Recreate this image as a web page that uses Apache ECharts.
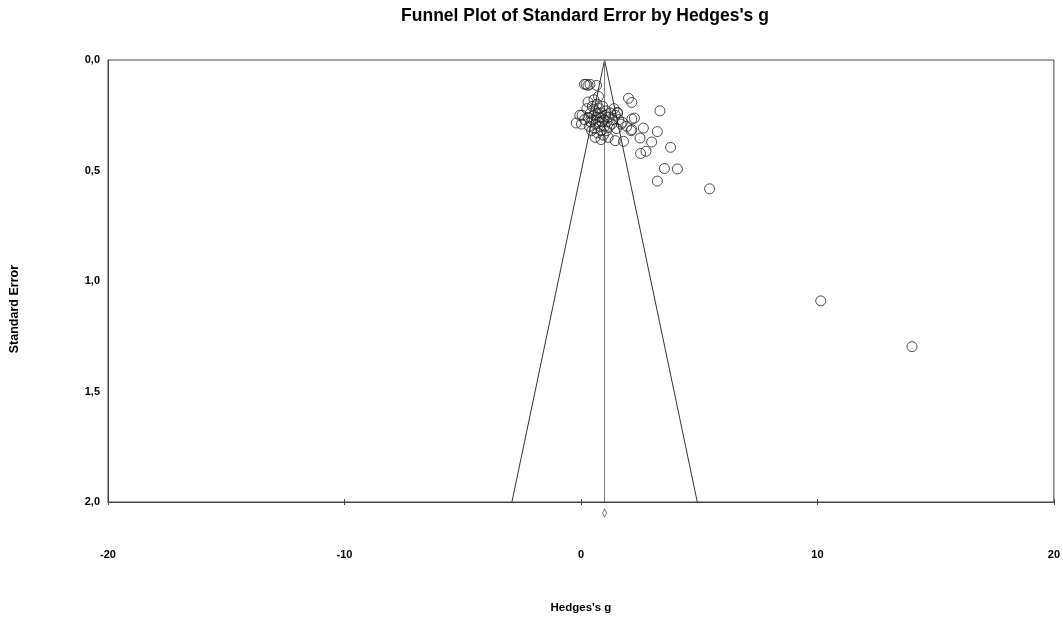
<!DOCTYPE html>
<html>
<head>
<meta charset="utf-8">
<script src="https://cdn.jsdelivr.net/npm/echarts@6/dist/echarts.min.js"></script>
<style>html,body{margin:0;padding:0;background:#fff}#c{width:1063px;height:619px}</style>
</head>
<body>
<div id="c"></div>
<script>
// Hedges's g values of individual studies
const studyG = [
  0.15, 0.22, 0.30, 0.38, 0.66, 0.74,
  0.05, 0.02, 0.15, 0.25, 0.30, 0.35, 0.40, 0.42, 0.48, 0.50, 0.55, 0.58, 0.60, 0.62,
  0.65, 0.68, 0.70, 0.72, 0.75, 0.78, 0.80, 0.82, 0.85, 0.88, 0.90, 0.92, 0.95, 0.98,
  1.00, 1.02, 1.05, 1.08, 1.10, 1.15, 1.20, 1.25, 1.30, 1.35, 1.40, 1.45, 1.50, 1.55,
  1.60, 1.70, 0.45, 0.60, 0.85, 1.15, 0.30, 0.55, 1.54, -0.20, -0.05,
  2.01, 2.15, 3.34, 2.64, 3.23, 2.15, 2.26, 2.15, 2.12, 2.50, 2.99, 1.45, 1.80, 3.79,
  2.52, 2.75, 3.53, 4.08, 3.23, 5.44, 1.75, 1.94, 10.14, 14.0
];
// Standard errors of the same studies
const studySE = [
  0.11, 0.11, 0.115, 0.11, 0.115, 0.165,
  0.25, 0.29, 0.27, 0.22, 0.26, 0.30, 0.24, 0.28, 0.21, 0.27, 0.25, 0.31, 0.23, 0.29,
  0.26, 0.20, 0.33, 0.24, 0.28, 0.22, 0.30, 0.26, 0.32, 0.24, 0.28, 0.21, 0.34, 0.27,
  0.30, 0.25, 0.23, 0.32, 0.28, 0.26, 0.30, 0.24, 0.29, 0.27, 0.22, 0.25, 0.31, 0.24,
  0.27, 0.29, 0.32, 0.35, 0.36, 0.35, 0.19, 0.18, 0.237, 0.285, 0.25,
  0.173, 0.192, 0.23, 0.308, 0.324, 0.267, 0.263, 0.315, 0.32, 0.353, 0.371, 0.365, 0.368, 0.395,
  0.423, 0.413, 0.491, 0.493, 0.548, 0.583, 0.282, 0.30, 1.09, 1.297
];
const meanG = 1.0;
const maxSE = 2.0;
const xTicks = [-20, -10, 0, 10, 20];
const yTicks = [0, 0.5, 1.0, 1.5, 2.0];

const pts = studyG.map((g, i) => [g, studySE[i]]);
const funnel = [[meanG - 1.96 * maxSE, maxSE], [meanG, 0], [meanG + 1.96 * maxSE, maxSE]];
const meanLine = [[meanG, 0], [meanG, maxSE]];

const chart = echarts.init(document.getElementById('c'), null, {renderer: 'canvas'});
const font = '"Liberation Sans", Arial, sans-serif';
const xBase = {type: 'value', position: 'bottom', min: xTicks[0], max: xTicks[xTicks.length - 1], interval: 10, splitLine: {show: false}};
chart.setOption({
  animation: false,
  backgroundColor: '#fff',
  title: {
    text: "Funnel Plot of Standard Error by Hedges's g",
    left: 580, top: 2, textAlign: 'center',
    textStyle: {fontFamily: font, fontSize: 17.5, fontWeight: 'bold', color: '#000'}
  },
  grid: {left: 108, right: 6, top: 60, bottom: 115, show: true, borderColor: '#444', borderWidth: 1},
  xAxis: [Object.assign({}, xBase, {
    name: "Hedges's g", nameLocation: 'middle', nameGap: 100,
    nameTextStyle: {fontFamily: font, fontSize: 11.5, fontWeight: 'bold', color: '#000'},
    axisLine: {show: true, onZero: false, lineStyle: {color: '#444'}},
    axisTick: {show: true, inside: true, length: 3, lineStyle: {color: '#444'}},
    axisLabel: {margin: 47, fontFamily: font, fontSize: 11, fontWeight: 'bold', color: '#000',
      formatter: v => xTicks.includes(v) ? String(v) : ''}
  }), Object.assign({}, xBase, {
    axisLine: {show: false, onZero: false},
    axisTick: {show: true, inside: false, length: 3, lineStyle: {color: '#444'}},
    axisLabel: {show: false}
  })],
  yAxis: {
    type: 'value', position: 'left', inverse: true, min: 0, max: maxSE, interval: 0.5,
    axisLine: {show: true, onZero: false, lineStyle: {color: '#444'}},
    axisTick: {show: false},
    axisLabel: {margin: 8, fontFamily: font, fontSize: 11, fontWeight: 'bold', color: '#000',
      formatter: v => yTicks.includes(v) ? v.toFixed(1).replace('.', ',') : ''},
    splitLine: {show: false}
  },
  graphic: [{
    type: 'text', left: 8, top: 265, rotation: Math.PI / 2,
    style: {text: 'Standard Error', font: 'bold 12.5px "Liberation Sans", Arial, sans-serif', fill: '#000'}
  }],
  series: [
    {type: 'line', data: funnel, symbol: 'none', lineStyle: {color: '#333', width: 1}, silent: true, z: 1},
    {type: 'line', data: meanLine, symbol: 'none', lineStyle: {color: '#777', width: 1}, silent: true, z: 1},
    {type: 'scatter', data: pts, symbol: 'circle', symbolSize: 10, clip: false,
      itemStyle: {color: 'rgba(0,0,0,0)', borderColor: '#222', borderWidth: 1}, z: 3},
    {type: 'scatter', data: [[meanG, maxSE + 0.05]], symbol: 'diamond', symbolSize: [4, 8], clip: false,
      itemStyle: {color: '#fff', borderColor: '#555', borderWidth: 1}, z: 3}
  ]
});
</script>
</body>
</html>
